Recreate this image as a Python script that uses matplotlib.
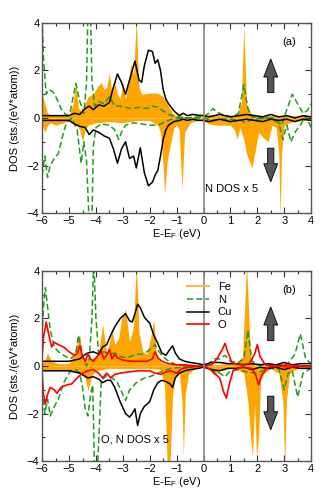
import matplotlib
matplotlib.use("Agg")
import matplotlib.pyplot as plt
from matplotlib.lines import Line2D
from matplotlib.ticker import MultipleLocator

plt.rcParams['font.family'] = ['Liberation Sans', 'DejaVu Sans']
plt.rcParams['font.size'] = 8

ORANGE = '#ffa500'
GREEN = '#229a22'

# ---------------- panel (a) ----------------
a_fe_up_e = [-6.0, -5.9, -5.8, -5.6, -5.3, -5.0, -4.85, -4.75, -4.65, -4.5, -4.4, -4.3, -4.1, -3.95,
             -3.8, -3.7, -3.6, -3.5, -3.4, -3.3, -3.2, -3.1, -3.0, -2.9, -2.8, -2.7, -2.6, -2.55,
             -2.5, -2.45, -2.4, -2.3, -2.0, -1.7, -1.5, -1.3, -1.15, -1.0, -0.5, 0.0, 0.2, 0.4,
             0.8, 1.2, 1.4, 1.5, 1.6, 1.8, 2.5, 3.0, 3.5, 4.0]
a_fe_up = [1.0, 0.6, 0.2, 0.1, 0.1, 0.1, 0.6, 1.5, 0.4, 0.3, 0.6, 0.9, 1.0, 1.3,
           1.5, 1.2, 1.3, 1.9, 1.0, 1.5, 1.0, 0.8, 1.5, 0.8, 1.5, 2.3, 1.8, 3.0,
           4.2, 2.5, 1.3, 1.0, 1.05, 1.05, 0.9, 0.5, 0.2, 0.1, 0.05, 0.05, 0.15, 0.1,
           0.1, 0.1, 0.6, 3.8, 0.6, 0.1, 0.1, 0.1, 0.1, 0.1]
a_fe_dn_e = [-6.0, -5.9, -5.8, -5.7, -5.5, -5.2, -5.0, -4.7, -4.6, -4.5, -4.4, -4.3, -4.0, -3.5,
             -3.0, -2.5, -2.0, -1.7, -1.6, -1.5, -1.45, -1.35, -1.25, -1.1, -1.0, -0.9, -0.8,
             -0.7, -0.5, -0.2, 0.0, 0.2, 0.5, 1.0, 1.15, 1.25, 1.35, 1.5, 1.6, 1.8, 1.95, 2.05,
             2.2, 2.4, 2.55, 2.7, 2.8, 2.85, 2.9, 3.0, 3.2, 3.5, 4.0]
a_fe_dn = [-0.3, -0.6, -0.3, -0.2, -0.3, -0.2, -0.1, -0.3, -0.5, -1.0, -0.5, -0.3, -0.2, -0.15,
           -0.2, -0.1, -0.1, -0.3, -0.6, -2.0, -3.2, -1.8, -1.2, -0.4, -0.3, -0.5, -3.0,
           -0.6, -0.2, -0.1, -0.1, -0.25, -0.3, -0.3, -0.5, -0.9, -0.4, -0.9, -1.5, -2.1, -1.2, -0.6,
           -0.8, -1.0, -0.3, -0.4, -1.5, -4.2, -1.5, -0.3, -0.2, -0.1, -0.1]

a_cu_up_e = [-6.0, -5.5, -5.0, -4.8, -4.6, -4.4, -4.25, -4.1, -3.9, -3.7, -3.5, -3.35, -3.2, -3.05,
             -2.9, -2.75, -2.55, -2.4, -2.3, -2.2, -2.05, -1.9, -1.8, -1.7, -1.6, -1.5, -1.4,
             -1.3, -1.1, -0.9, -0.75, -0.6, -0.4, -0.2, 0.0, 0.2, 0.4, 0.6, 0.8, 1.0, 1.3, 1.6,
             1.9, 2.2, 2.5, 2.8, 3.1, 3.4, 3.7, 4.0]
a_cu_up = [0.1, 0.1, 0.1, 0.2, 0.15, 0.4, 0.5, 0.35, 0.55, 0.5, 0.65, 1.3, 1.85, 1.5,
           1.0, 1.6, 2.4, 1.6, 1.5, 2.2, 2.85, 2.8, 2.3, 2.45, 2.0, 1.2, 0.8,
           0.6, 0.3, 0.1, 0.2, 0.1, 0.15, 0.12, 0.1, 0.05, 0.1, 0.15, 0.1, 0.05, 0.1, 0.15,
           0.1, 0.05, 0.15, 0.05, 0.1, 0.0, 0.1, 0.05]
a_cu_dn_e = [-6.0, -5.5, -5.0, -4.8, -4.6, -4.4, -4.25, -4.1, -3.9, -3.7, -3.5, -3.35, -3.2, -3.05,
             -2.9, -2.75, -2.6, -2.5, -2.35, -2.2, -2.05, -1.9, -1.8, -1.7, -1.6, -1.5, -1.4,
             -1.3, -1.1, -0.9, -0.75, -0.6, -0.4, -0.2, 0.0, 0.2, 0.4, 0.6, 0.8, 1.0, 1.3, 1.6,
             1.9, 2.2, 2.5, 2.8, 3.1, 3.4, 3.7, 4.0]
a_cu_dn = [-0.1, -0.1, -0.1, -0.25, -0.35, -0.4, -0.7, -0.5, -0.6, -0.75, -0.85, -1.3, -1.9, -1.3,
           -1.0, -1.7, -1.6, -2.1, -1.25, -2.3, -2.85, -2.7, -2.4, -2.2, -1.6, -0.9, -0.5,
           -0.3, -0.15, -0.1, -0.05, -0.1, -0.05, -0.1, -0.1, -0.15, -0.1, -0.05, -0.1, -0.15, -0.1, -0.05,
           -0.1, -0.15, -0.05, -0.1, -0.05, -0.15, -0.05, -0.1]

a_n_up_e = [-6.0, -5.95, -5.85, -5.75, -5.6, -5.45, -5.3, -5.1, -4.95, -4.75, -4.6, -4.45, -4.35,
            -4.3, -4.2, -4.15, -4.05, -3.9, -3.7, -3.5, -3.3, -3.1, -2.9, -2.7, -2.4, -2.1, -1.9,
            -1.7, -1.5, -1.3, -1.0, -0.6, -0.3, 0.0, 0.2, 0.35, 0.5, 0.8, 1.1, 1.3, 1.5, 1.65, 1.8,
            2.2, 2.6, 2.9, 3.05, 3.3, 3.5, 3.7, 3.85, 4.0]
a_n_up = [4.2, 2.5, 1.0, 1.2, 1.1, 0.8, 0.4, 0.1, 0.3, 1.45, 0.7, 0.2, 1.5,
          4.5, 4.5, 1.5, 0.5, 0.7, 0.6, 0.9, 0.5, 0.5, 0.45, 0.4, 0.45, 0.4, 0.5,
          0.45, 0.3, 0.15, 0.05, 0.0, 0.05, 0.05, 0.2, 0.4, 0.25, 0.1, 0.05, 0.2, 1.4, 0.4, 0.05,
          0.0, 0.0, -0.3, 0.2, 1.0, 0.6, 0.2, 0.3, 0.6]
a_n_dn_e = [-6.0, -5.9, -5.8, -5.7, -5.55, -5.4, -5.25, -5.1, -4.9, -4.7, -4.55, -4.45, -4.35,
            -4.25, -4.15, -4.1, -4.0, -3.8, -3.5, -3.3, -3.15, -3.05, -2.9, -2.6, -2.3, -2.0,
            -1.7, -1.5, -1.2, -0.8, -0.4, 0.0, 0.3, 0.6, 1.0, 1.4, 1.55, 1.8, 2.4, 2.8, 2.95,
            3.1, 3.25, 3.4, 3.6, 3.8, 4.0]
a_n_dn = [-2.4, -1.6, -2.5, -2.0, -1.7, -1.5, -0.8, -0.2, 0.0, -0.5, -1.9, -1.0, -1.8,
          -4.5, -4.5, -1.2, -0.4, -0.25, -0.3, -0.5, -0.9, -0.6, -0.3, -0.2, -0.25, -0.3,
          -0.3, -0.2, -0.05, 0.0, 0.0, 0.0, -0.1, -0.05, -0.05, -0.1, -0.2, -0.05, 0.0, -0.2, -0.9,
          -0.3, -1.0, -0.6, -0.3, 0.1, -0.4]

# ---------------- panel (b) ----------------
b_fe_up_e = [-6.0, -5.9, -5.8, -5.65, -5.4, -5.0, -4.85, -4.75, -4.6, -4.5, -4.3, -4.05, -3.9,
             -3.75, -3.6, -3.5, -3.4, -3.3, -3.15, -3.05, -2.9, -2.75, -2.6, -2.55, -2.5, -2.45,
             -2.4, -2.25, -2.1, -1.95, -1.85, -1.75, -1.6, -1.4, -1.0, -0.5, 0.0, 0.4, 0.8, 1.2,
             1.45, 1.6, 1.75, 1.9, 2.3, 2.8, 3.2, 3.6, 4.0]
b_fe_up = [0.1, 0.25, 0.55, 0.2, 0.1, 0.1, 0.4, 0.8, 1.3, 0.35, 0.3, 0.35, 0.6,
           1.75, 0.5, 1.0, 1.5, 0.9, 1.2, 2.0, 2.4, 1.0, 1.7, 3.0, 4.3, 3.0,
           1.4, 0.6, 0.5, 1.3, 1.95, 0.5, 0.15, 0.1, 0.05, 0.05, 0.0, 0.05, 0.1, 0.1,
           0.4, 4.3, 0.4, 0.05, 0.05, 0.05, 0.05, 0.05, 0.05]
b_fe_dn_e = [-6.0, -5.5, -5.0, -4.6, -4.4, -4.3, -4.15, -4.0, -3.5, -3.0, -2.5, -2.0, -1.6,
             -1.45, -1.35, -1.25, -1.15, -1.05, -0.9, -0.8, -0.75, -0.68, -0.55, -0.3, 0.0,
             0.25, 0.4, 0.55, 0.8, 1.2, 1.5, 1.65, 1.75, 1.82, 1.9, 1.97, 2.05, 2.12, 2.25,
             2.5, 2.8, 2.95, 3.02, 3.08, 3.2, 3.5, 4.0]
b_fe_dn = [-0.15, -0.15, -0.15, -0.3, -0.5, -1.05, -0.4, -0.2, -0.1, -0.1, -0.1, -0.1, -0.15,
           -0.8, -4.2, -4.2, -1.2, -0.4, -0.3, -1.5, -3.8, -1.2, -0.3, -0.1, 0.0,
           -0.15, -0.4, -0.2, -0.1, -0.1, -0.3, -1.5, -3.0, -3.8, -1.6, -3.8, -3.0, -0.6, -0.3,
           -0.1, -0.3, -1.5, -4.2, -1.5, -0.3, -0.1, -0.1]

b_cu_up_e = [-6.0, -5.5, -5.0, -4.8, -4.6, -4.45, -4.3, -4.1, -3.9, -3.75, -3.6, -3.45, -3.3,
             -3.1, -2.9, -2.75, -2.65, -2.55, -2.45, -2.35, -2.2, -2.0, -1.85, -1.7, -1.55,
             -1.4, -1.25, -1.15, -1.05, -0.9, -0.7, -0.5, -0.2, 0.0, 0.3, 0.6, 0.9, 1.2, 1.5,
             1.8, 2.1, 2.4, 2.7, 3.0, 3.3, 3.6, 4.0]
b_cu_up = [0.2, 0.2, 0.2, 0.25, 0.3, 0.45, 0.55, 0.6, 0.5, 0.8, 0.9, 1.3, 1.65,
           2.0, 2.2, 1.9, 1.85, 2.2, 2.6, 2.45, 2.05, 1.8, 1.3, 0.95, 0.55,
           0.45, 0.7, 0.85, 0.55, 0.3, 0.2, 0.15, 0.1, 0.05, 0.15, 0.15, 0.1, 0.1, 0.05,
           0.1, 0.05, 0.1, 0.05, 0.15, 0.05, 0.1, 0.1]
b_cu_dn_e = [-6.0, -5.5, -5.0, -4.8, -4.6, -4.45, -4.3, -4.1, -3.9, -3.75, -3.6, -3.45, -3.3,
             -3.1, -2.9, -2.75, -2.65, -2.55, -2.45, -2.35, -2.2, -2.0, -1.85, -1.7, -1.55,
             -1.4, -1.25, -1.15, -1.05, -0.9, -0.7, -0.5, -0.2, 0.0, 0.3, 0.6, 0.9, 1.2, 1.5,
             1.8, 2.1, 2.4, 2.7, 3.0, 3.3, 3.6, 4.0]
b_cu_dn = [-0.2, -0.2, -0.2, -0.25, -0.3, -0.4, -0.5, -0.45, -0.55, -0.7, -0.6, -0.6, -0.9,
           -1.5, -2.0, -2.15, -2.0, -1.8, -2.5, -2.0, -1.7, -1.5, -1.0, -0.7, -0.6,
           -0.65, -0.75, -0.9, -0.5, -0.3, -0.2, -0.15, -0.1, -0.05, -0.15, -0.2, -0.1, -0.1, -0.05,
           -0.15, -0.05, -0.1, -0.05, -0.15, -0.05, -0.1, -0.1]

b_n_up_e = [-6.0, -5.95, -5.88, -5.8, -5.7, -5.55, -5.4, -5.2, -4.95, -4.75, -4.65, -4.5, -4.35,
            -4.25, -4.15, -4.08, -4.0, -3.9, -3.7, -3.5, -3.3, -3.1, -2.9, -2.7, -2.5, -2.3,
            -2.1, -1.95, -1.8, -1.65, -1.5, -1.3, -1.0, -0.6, 0.0, 0.2, 0.4, 0.6, 0.8, 1.0,
            1.3, 1.5, 1.65, 1.8, 2.1, 2.6, 3.1, 3.4, 3.6, 3.8, 4.0]
b_n_up = [1.3, 2.5, 3.3, 2.5, 1.5, 0.8, 0.6, 0.45, 0.3, 0.5, 1.3, 0.4, 0.0,
          0.3, 2.0, 4.5, 2.0, 0.5, 0.6, 0.5, 0.55, 0.4, 0.35, 0.4, 0.5, 0.5,
          0.6, 0.75, 0.9, 0.6, 0.4, 0.2, 0.05, 0.0, 0.0, 0.1, 0.3, 0.3, 0.45, 0.2,
          0.15, 0.3, 1.5, 0.2, 0.05, 0.05, 0.05, 0.5, 1.35, 0.3, 0.1]
b_n_dn_e = [-6.0, -5.9, -5.8, -5.7, -5.55, -5.4, -5.2, -4.95, -4.75, -4.6, -4.5, -4.4, -4.3,
            -4.2, -4.12, -4.05, -3.95, -3.8, -3.6, -3.4, -3.2, -3.0, -2.9, -2.75, -2.5, -2.2,
            -2.0, -1.8, -1.5, -1.2, -0.8, -0.4, 0.0, 0.2, 0.4, 0.6, 0.8, 1.0, 1.3, 1.6, 2.0,
            2.4, 2.8, 3.0, 3.15, 3.3, 3.5, 3.7, 4.0]
b_n_dn = [-1.0, -2.0, -1.4, -2.1, -1.7, -1.4, -0.7, -0.2, -0.15, -0.3, -0.9, -1.8, -2.1,
          -1.2, -0.8, -4.5, -4.5, -0.6, -0.4, -0.5, -0.7, -1.2, -1.45, -1.0, -0.7, -0.5,
          -0.45, -0.35, -0.2, -0.1, -0.05, 0.0, 0.0, -0.05, -0.25, -0.3, -0.45, -0.2,
          -0.15, -0.25, -0.3, -0.1, -0.1, -1.0, -0.3, -0.2, -1.3, -0.3, -0.1]

b_o_up_e = [-6.0, -5.95, -5.85, -5.75, -5.65, -5.55, -5.4, -5.2, -5.0, -4.8, -4.7, -4.6, -4.5,
            -4.4, -4.3, -4.2, -4.1, -3.95, -3.8, -3.7, -3.6, -3.5, -3.4, -3.3, -3.2, -3.0,
            -2.7, -2.4, -2.1, -1.9, -1.8, -1.7, -1.55, -1.3, -1.0, -0.7, -0.3, 0.0, 0.3, 0.5,
            0.7, 0.8, 0.9, 1.05, 1.3, 1.7, 1.9, 2.0, 2.1, 2.3, 2.7, 3.1, 3.5, 4.0]
b_o_up = [0.4, 1.2, 1.85, 1.3, 0.8, 1.0, 0.9, 0.8, 0.6, 0.45, 0.5, 0.85, 0.4,
          0.2, 0.5, 0.3, 0.2, 0.4, 0.6, 0.3, 0.45, 0.7, 0.3, 0.5, 0.35, 0.25,
          0.2, 0.2, 0.2, 0.3, 0.6, 0.35, 0.2, 0.1, 0.05, 0.05, 0.0, 0.0, 0.05, 0.3,
          0.7, 0.95, 0.6, 0.15, 0.05, 0.1, 0.5, 0.9, 0.4, 0.05, 0.0, 0.05, 0.0, 0.0]
b_o_dn_e = [-6.0, -5.95, -5.88, -5.8, -5.7, -5.55, -5.45, -5.3, -5.1, -4.9, -4.7, -4.5, -4.3,
            -4.1, -3.9, -3.75, -3.6, -3.45, -3.3, -3.1, -2.8, -2.4, -2.0, -1.8, -1.6, -1.4,
            -1.2, -1.0, -0.8, -0.5, 0.0, 0.2, 0.4, 0.6, 0.75, 0.85, 0.95, 1.1, 1.4, 1.8, 1.95,
            2.05, 2.15, 2.4, 2.8, 3.2, 3.6, 4.0]
b_o_dn = [-0.3, -1.2, -1.6, -1.2, -0.9, -1.0, -1.15, -0.9, -0.8, -0.75, -0.5, -0.3, -0.2,
          -0.15, -0.3, -0.5, -0.3, -0.5, -0.35, -0.3, -0.25, -0.2, -0.2, -0.3, -0.35, -0.25,
          -0.2, -0.3, -0.1, -0.05, 0.0, -0.1, -0.3, -0.5, -1.1, -1.35, -0.8, -0.2, -0.05, -0.1,
          -0.4, -0.8, -0.4, -0.05, 0.0, -0.05, 0.0, 0.0]

panels = [
    dict(fe=(a_fe_up_e, a_fe_up, a_fe_dn_e, a_fe_dn),
         cu=(a_cu_up_e, a_cu_up, a_cu_dn_e, a_cu_dn),
         n=(a_n_up_e, a_n_up, a_n_dn_e, a_n_dn), o=None,
         tag='(a)', note='N DOS x 5', note_xy=(0.05, -3.0)),
    dict(fe=(b_fe_up_e, b_fe_up, b_fe_dn_e, b_fe_dn),
         cu=(b_cu_up_e, b_cu_up, b_cu_dn_e, b_cu_dn),
         n=(b_n_up_e, b_n_up, b_n_dn_e, b_n_dn),
         o=(b_o_up_e, b_o_up, b_o_dn_e, b_o_dn),
         tag='(b)', note='O, N DOS x 5', note_xy=(-3.8, -3.1)),
]

fig = plt.figure(figsize=(3.32, 4.98), dpi=100)
boxes = [[0.127, 0.572, 0.810, 0.382], [0.127, 0.074, 0.810, 0.382]]
arrow_style = 'simple,head_width=1.0,head_length=1.3,tail_width=0.45'

for box, p in zip(boxes, panels):
    ax = fig.add_axes(box)
    eu, fu, ed, fd = p['fe']
    ax.fill_between(eu, fu, 0, color=ORANGE, lw=0)
    ax.fill_between(ed, fd, 0, color=ORANGE, lw=0)
    eu, nu, ed, nd = p['n']
    ax.plot(eu, nu, color=GREEN, ls='--', lw=1.1, dashes=(4, 2))
    ax.plot(ed, nd, color=GREEN, ls='--', lw=1.1, dashes=(4, 2))
    eu, cu, ed, cd = p['cu']
    ax.plot(eu, cu, color='black', lw=1.1)
    ax.plot(ed, cd, color='black', lw=1.1)
    if p['o'] is not None:
        eu, ou, ed, od = p['o']
        ax.plot(eu, ou, color='red', lw=1.2)
        ax.plot(ed, od, color='red', lw=1.2)

    ax.axvline(0, color='#888888', lw=1.2)
    ax.set_xlim(-6, 4)
    ax.set_ylim(-4, 4)
    ax.xaxis.set_major_locator(MultipleLocator(1))
    ax.xaxis.set_minor_locator(MultipleLocator(0.5))
    ax.yaxis.set_major_locator(MultipleLocator(2))
    ax.yaxis.set_minor_locator(MultipleLocator(1))
    ax.tick_params(which='both', direction='in', top=True, right=True,
                   labelsize=8, width=0.8, color='#333333')
    ax.tick_params(which='major', length=4, pad=2)
    ax.tick_params(which='minor', length=2)
    for s in ax.spines.values():
        s.set_color('#555555')
        s.set_linewidth(1.0)
    ax.set_xlabel('E-E$_\\mathregular{F}$ (eV)', fontsize=8, labelpad=1)
    ax.set_ylabel('DOS (sts./(eV*atom))', fontsize=8, labelpad=5)

    # spin arrows
    ax.annotate('', xy=(2.5, 2.6), xytext=(2.5, 0.95),
                arrowprops=dict(arrowstyle=arrow_style, mutation_scale=10,
                                fc='#555555', ec='black', lw=0.6))
    ax.annotate('', xy=(2.5, -2.8), xytext=(2.5, -1.15),
                arrowprops=dict(arrowstyle=arrow_style, mutation_scale=10,
                                fc='#555555', ec='black', lw=0.6))

    ax.text(3.2, 3.2, p['tag'], fontsize=8, ha='center', va='center')
    ax.text(p['note_xy'][0], p['note_xy'][1], p['note'], fontsize=8, ha='left', va='center')

    if p['o'] is not None:
        handles = [Line2D([], [], color='#ffb547', lw=1.5),
                   Line2D([], [], color=GREEN, ls='--', lw=1.1, dashes=(4, 2)),
                   Line2D([], [], color='black', lw=1.1),
                   Line2D([], [], color='red', lw=1.2)]
        ax.legend(handles, ['Fe', 'N', 'Cu', 'O'], loc='upper left',
                  bbox_to_anchor=(0.5, 0.995), frameon=False, fontsize=8,
                  handlelength=2.0, handletextpad=0.8, labelspacing=0.25)

fig.savefig('out.png', dpi=100)
